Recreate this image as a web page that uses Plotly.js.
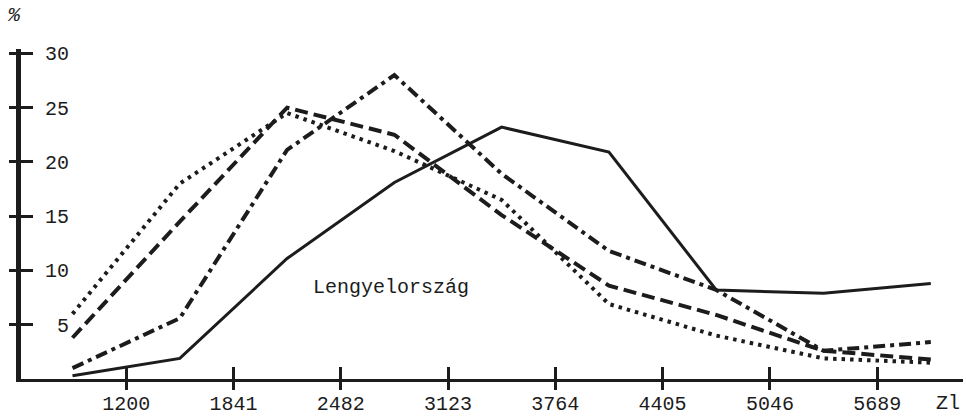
<!DOCTYPE html>
<html>
<head>
<meta charset="utf-8">
<script src="https://cdn.plot.ly/plotly-3.0.1.min.js"></script>
<style>
  html, body { margin: 0; padding: 0; background: #ffffff; }
  #chart { width: 966px; height: 419px; }
</style>
</head>
<body>
<div id="chart"></div>
<script>
// Income classes (index positions); class boundaries are the tick labels
const classIndex = [0, 1, 2, 3, 4, 5, 6, 7, 8];
const boundaryPos = [0.5, 1.5, 2.5, 3.5, 4.5, 5.5, 6.5, 7.5];
const boundaryLabels = ["1200", "1841", "2482", "3123", "3764", "4405", "5046", "5689"];
const yTicks = [5, 10, 15, 20, 25, 30];
const yTickLabels = ["5", "10", "15", "20", "25", "30"];

// Series values (%)
const solidSeries   = [0.3, 1.9, 11.1, 18.1, 23.2, 20.9, 8.2, 7.9, 8.8];   // Lengyelország
const dashdotSeries = [1.0, 5.6, 21.1, 28.0, 18.9, 11.8, 8.2, 2.6, 3.4];
const dashedSeries  = [3.8, 14.5, 25.0, 22.5, 15.1, 8.6, 5.9, 2.6, 1.8];
const dottedSeries  = [6.0, 18.0, 24.5, 21.0, 16.5, 6.9, 4.0, 1.9, 1.5];

const ink = '#1c1c1c';
const FONT = '"Liberation Mono", "DejaVu Sans Mono", monospace';

function line(y, dash, width) {
  return {
    x: classIndex, y: y, type: 'scatter', mode: 'lines',
    line: { color: ink, width: width, dash: dash },
    hoverinfo: 'skip', showlegend: false
  };
}
function dummy(xa, ya) {
  return { x: [0], y: [0], xaxis: xa, yaxis: ya, type: 'scatter', mode: 'lines',
    line: { width: 0 }, hoverinfo: 'skip', showlegend: false };
}

const traces = [
  line(dottedSeries, '3.5px,5px', 4),
  line(dashedSeries, '13px,6px', 4),
  line(dashdotSeries, '12px,5px,4px,5px', 4),
  line(solidSeries, 'solid', 3),
  dummy('x2', 'y2'),
  dummy('x', 'y3')
];

const xRange = [-0.48, 8.3];
const yRange = [0, 30.4];

const layout = {
  width: 966, height: 419,
  margin: { l: 21, r: 3, t: 49, b: 40 },
  paper_bgcolor: '#ffffff', plot_bgcolor: '#ffffff',
  font: { family: FONT, size: 20, color: ink },
  showlegend: false,
  xaxis: {
    range: xRange, fixedrange: true,
    tickmode: 'array', tickvals: boundaryPos, ticktext: boundaryLabels,
    ticks: 'inside', ticklen: 12, tickwidth: 3, tickcolor: ink,
    ticklabelstandoff: 4,
    showline: true, linewidth: 3, linecolor: ink,
    showgrid: false, zeroline: false,
    tickfont: { family: FONT, size: 20, color: ink }
  },
  yaxis: {
    range: yRange, fixedrange: true,
    tickmode: 'array', tickvals: yTicks, showticklabels: false,
    ticks: 'outside', ticklen: 7, tickwidth: 3, tickcolor: ink,
    showline: true, linewidth: 5, linecolor: ink,
    showgrid: false, zeroline: false
  },
  xaxis2: {
    overlaying: 'x', anchor: 'y2', range: xRange, fixedrange: true,
    tickmode: 'array', tickvals: boundaryPos, showticklabels: false,
    ticks: 'outside', ticklen: 10, tickwidth: 3, tickcolor: ink,
    showline: false, showgrid: false, zeroline: false
  },
  yaxis2: {
    overlaying: 'y', anchor: 'x2', range: yRange, fixedrange: true,
    tickmode: 'array', tickvals: yTicks, showticklabels: false,
    ticks: 'inside', ticklen: 12, tickwidth: 3, tickcolor: ink,
    showline: false, showgrid: false, zeroline: false
  },
  yaxis3: {
    overlaying: 'y', anchor: 'free', position: 0.051, side: 'left',
    range: yRange, fixedrange: true,
    tickmode: 'array', tickvals: yTicks, ticktext: yTickLabels,
    ticks: '', showline: false, showgrid: false, zeroline: false,
    ticklabelstandoff: 0,
    tickfont: { family: FONT, size: 20, color: ink }
  },
  annotations: [
    { text: 'Lengyelország', x: 2.97, y: 8.46, xref: 'x', yref: 'y',
      showarrow: false, xanchor: 'center', yanchor: 'middle',
      font: { family: FONT, size: 20, color: ink } },
    { text: 'Zl', x: 8.16, y: -0.073, xref: 'x', yref: 'paper',
      showarrow: false, xanchor: 'center', yanchor: 'middle',
      font: { family: FONT, size: 20, color: ink } },
    { text: '<i>%</i>', x: -0.007, y: 1.1, xref: 'paper', yref: 'paper',
      showarrow: false, xanchor: 'center', yanchor: 'middle',
      font: { family: FONT, size: 20, color: ink } }
  ]
};

Plotly.newPlot('chart', traces, layout, { displayModeBar: false, staticPlot: true });
</script>
</body>
</html>
